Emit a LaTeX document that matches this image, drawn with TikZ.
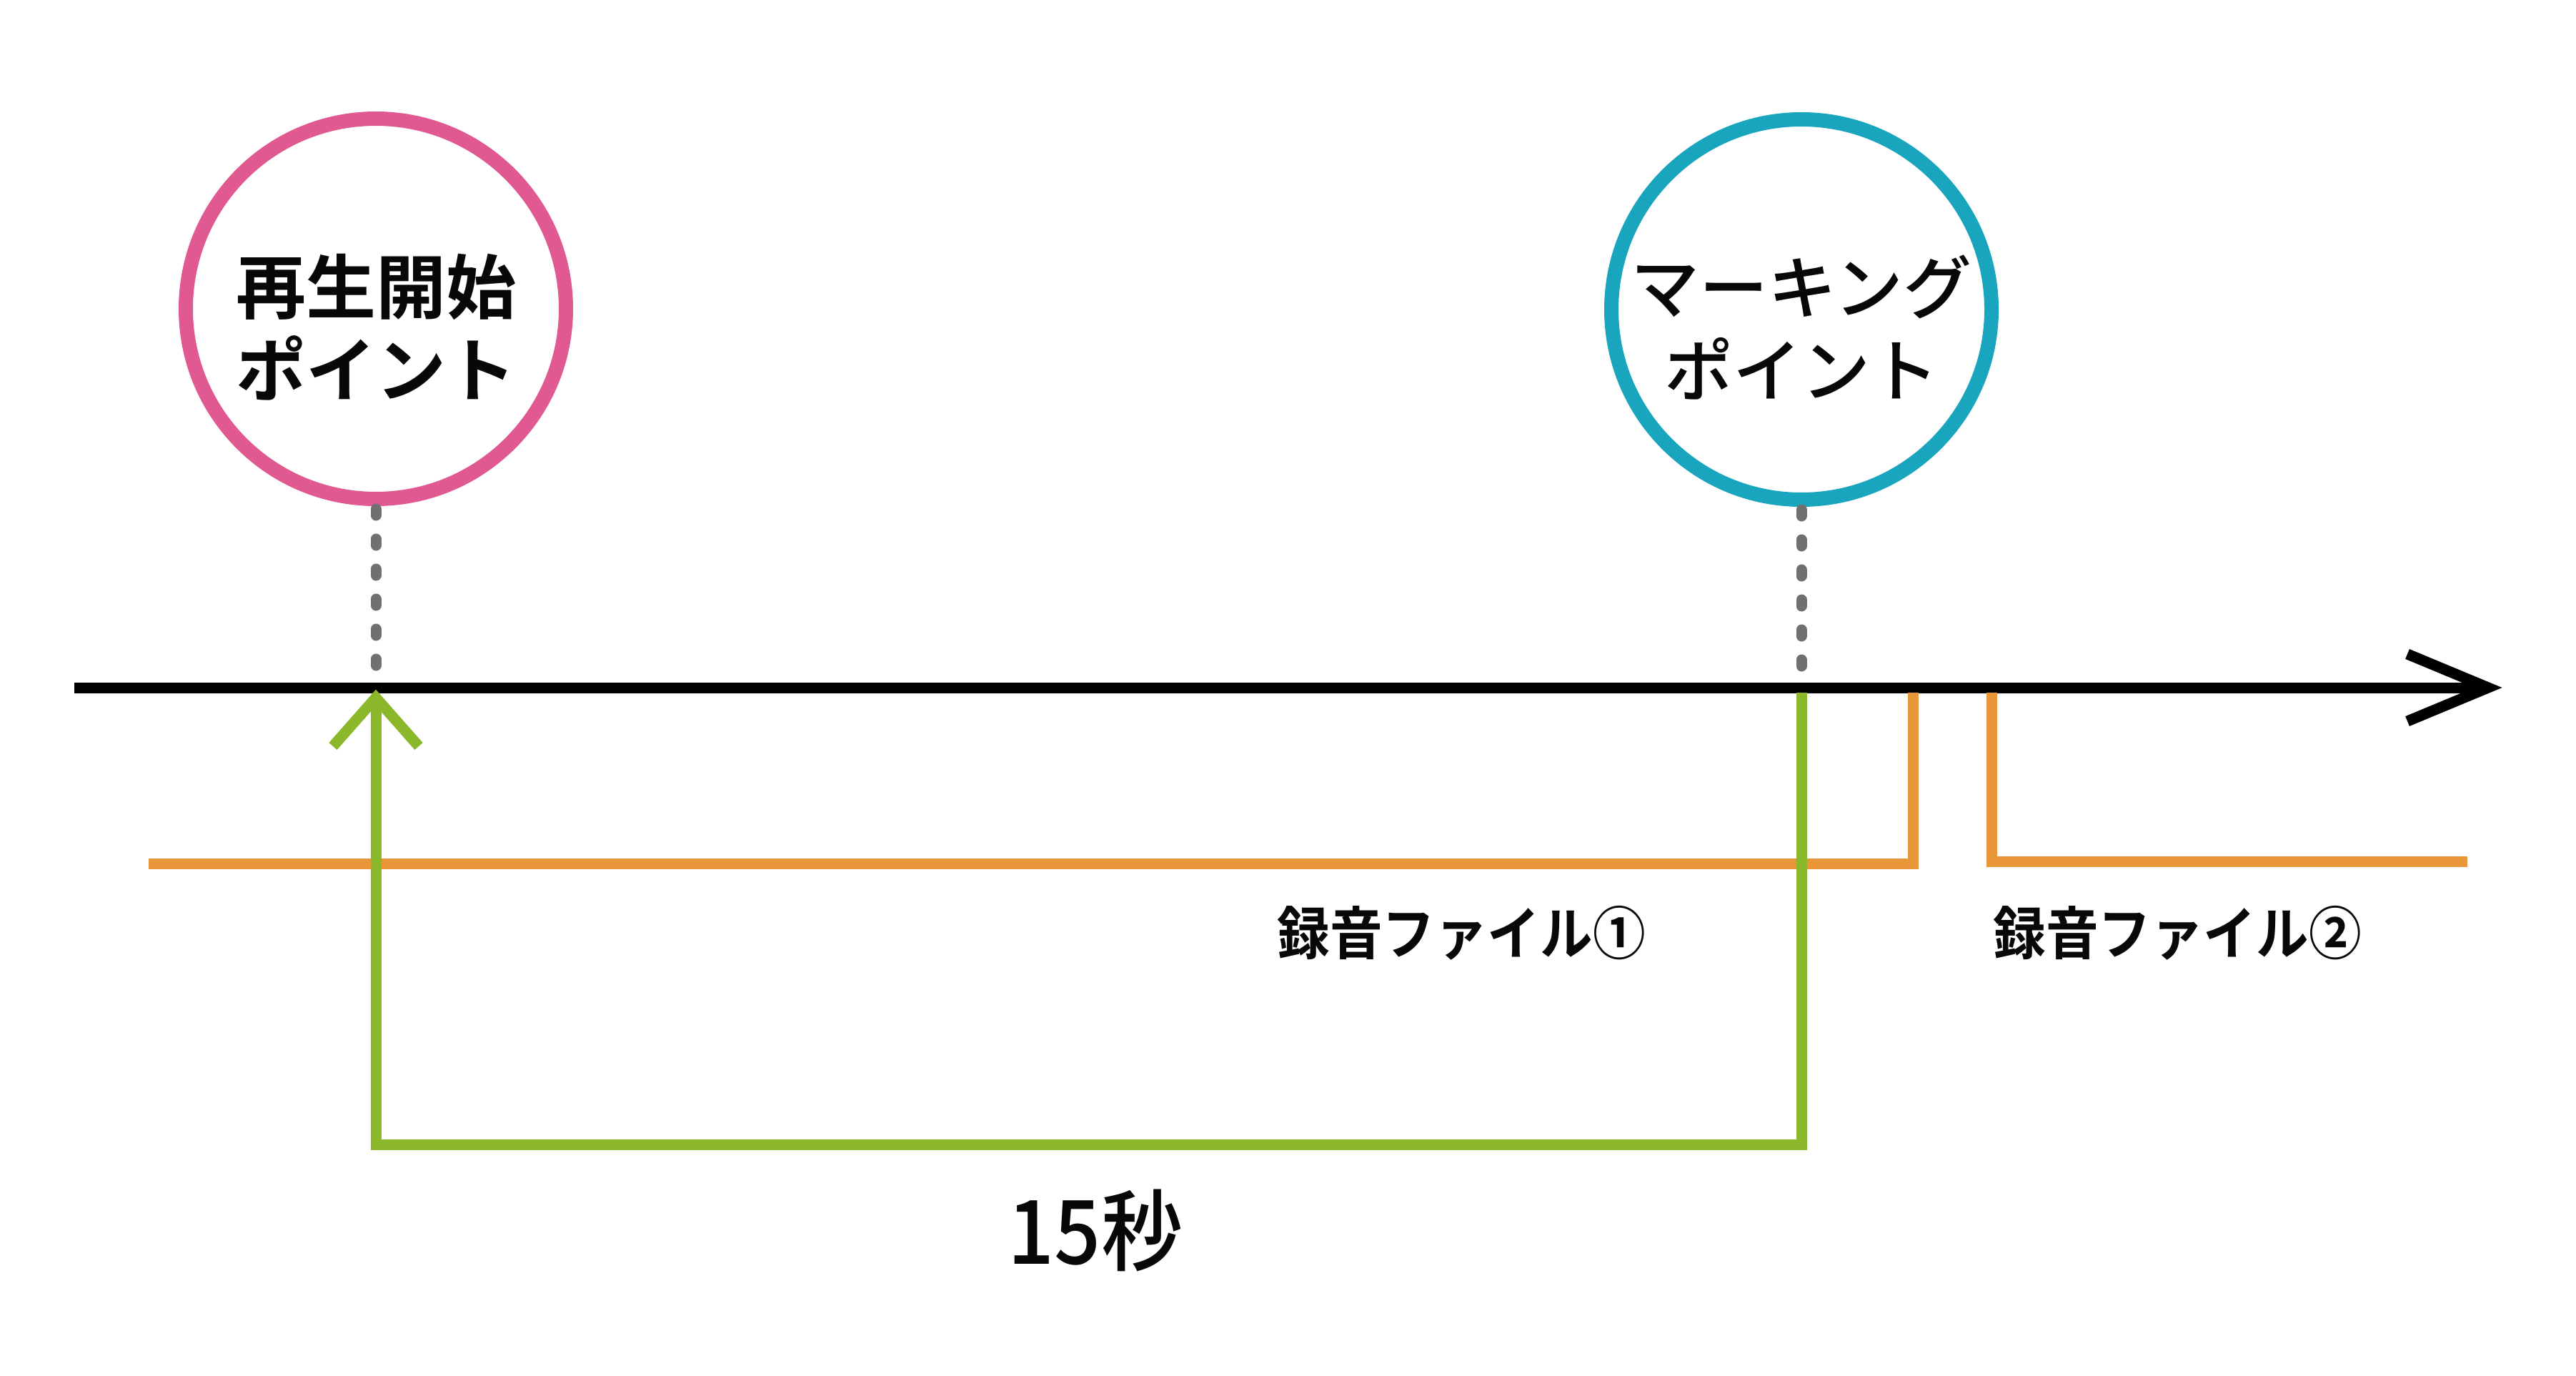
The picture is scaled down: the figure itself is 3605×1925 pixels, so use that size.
\documentclass[tikz,border=0pt]{standalone}
\usepackage{fontspec}
\newfontfamily\jpm{Noto Sans CJK JP Medium}
\newfontfamily\jpb{Noto Sans CJK JP Bold}
\definecolor{pinkc}{HTML}{E05A91}
\definecolor{bluec}{HTML}{19A5BD}
\definecolor{greenc}{HTML}{8BB82B}
\definecolor{orangec}{HTML}{E99638}
\definecolor{grayc}{HTML}{707070}
\definecolor{inkc}{HTML}{0A0707}
\tikzset{
  ring/.style={circle, draw=#1, line width=5pt, minimum size=133pt, inner sep=0pt},
  ctext/.style={align=center, text=inkc, inner sep=0pt, font=#1},
  lbl/.style={text=inkc, inner sep=0pt, font=\jpb\fontsize{20pt}{24pt}\selectfont, xscale=0.92},
  dotline/.style={draw=grayc, line width=3.75pt, line cap=round, dash pattern=on 2.25pt off 8.25pt},
  axisline/.style={draw=black, line width=3.75pt},
  greenl/.style={draw=greenc, line width=3.75pt, miter limit=10},
  orangel/.style={draw=orangec, line width=3.75pt}
}
\begin{document}
\begin{tikzpicture}[x=0.25pt, y=-0.25pt]
\useasboundingbox (0,0) rectangle (3605,1925);
% axis
\coordinate (a0) at (104,962);
\coordinate (a1) at (3482,962);
\coordinate (h1) at (3369,915);
\coordinate (h2) at (3369,1009);
\draw[axisline] (a0) -- (a1);
\draw[axisline, line join=miter] (h1) -- (a1) -- (h2);
% circles
\node[ring=pinkc] (startc) at (526,432) {};
\node[ctext={\jpb\fontsize{24.5pt}{29pt}\selectfont}] (startt) at (526,458) {再生開始\\ポイント};
\node[ring=bluec] (markc) at (2521,433) {};
\node[ctext={\jpm\fontsize{24pt}{29pt}\selectfont}] (markt) at (2521,458) {マーキング\\ポイント};
% dotted drops
\draw[dotline] ([yshift=-1pt]startc.south) -- (startc.south |- a0);
\draw[dotline] ([yshift=-1pt]markc.south) -- (markc.south |- a0);
% orange recording files
\coordinate (o1a) at (208,1208);
\coordinate (o1b) at (2677,1208);
\coordinate (o1c) at (2677,969);
\coordinate (o2a) at (2787,969);
\coordinate (o2b) at (2787,1205);
\coordinate (o2c) at (3453,1205);
\draw[orangel] (o1a) -- (o1b) -- (o1c);
\draw[orangel] (o2a) -- (o2b) -- (o2c);
% green 15 s jump back
\coordinate (gtip) at (526,976);
\coordinate (gl) at (466,1044);
\coordinate (gr) at (586,1044);
\coordinate (gb1) at (526,1601);
\coordinate (gb2) at (2521,1601);
\coordinate (gtop) at (2521,969);
\draw[greenl] (gtop) -- (gb2) -- (gb1) -- (gtip);
\draw[greenl, line join=miter] (gl) -- (gtip) -- (gr);
% labels
\node[lbl] (f1) at (2045,1305) {録音ファイル①};
\node[lbl] (f2) at (3047,1305) {録音ファイル②};
\node[text=inkc, inner sep=0pt, font=\jpm\fontsize{31pt}{36pt}\selectfont, xscale=0.92] (sec) at (1533,1721) {15秒};
\end{tikzpicture}
\end{document}
